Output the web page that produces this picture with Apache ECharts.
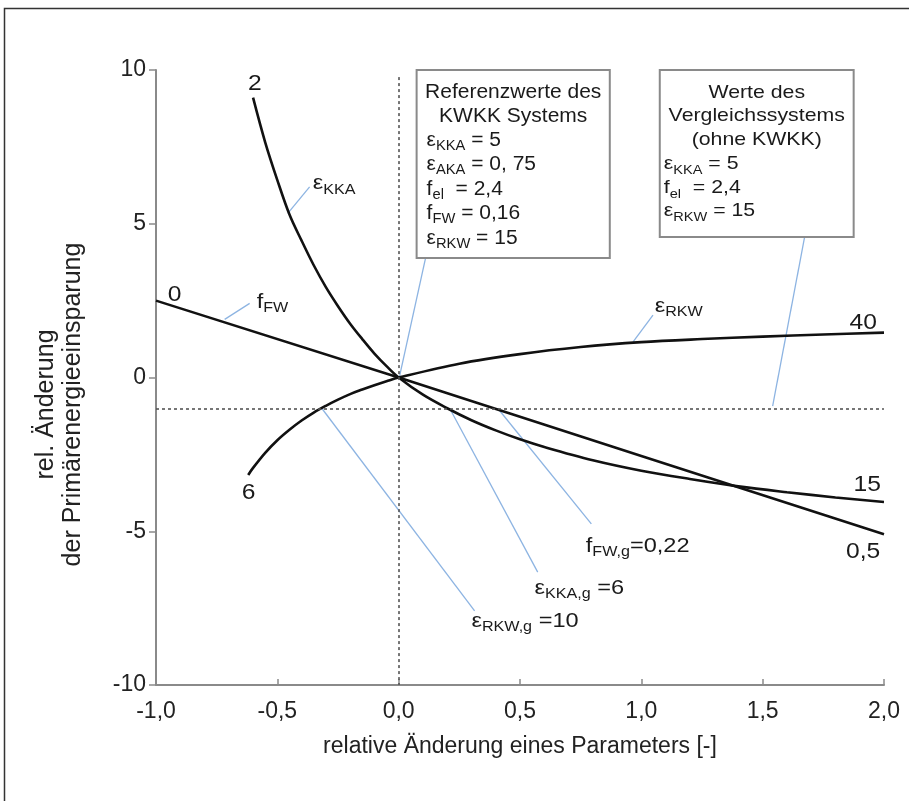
<!DOCTYPE html>
<html><head><meta charset="utf-8">
<script src="https://cdn.jsdelivr.net/npm/echarts@6/dist/echarts.min.js"></script>
<style>html,body{margin:0;padding:0;background:#fff}#c{width:909px;height:801px}</style>
</head><body><div id="c"></div>
<script>
// ---------- data ----------
const kkaX = [-0.6, -0.55, -0.5, -0.45, -0.4, -0.35, -0.3, -0.25, -0.2, -0.15, -0.1, -0.05, 0, 0.1, 0.2, 0.3, 0.4, 0.5, 0.6, 0.8, 1.0, 1.2, 1.4, 1.6, 1.8, 2.0];
const kkaY = [9.1, 7.65, 6.42, 5.3, 4.45, 3.65, 2.94, 2.32, 1.75, 1.25, 0.78, 0.37, 0, -0.56, -1.0, -1.39, -1.72, -2.01, -2.26, -2.69, -3.03, -3.3, -3.54, -3.73, -3.9, -4.05];
const rkwX = [-0.62, -0.6, -0.55, -0.5, -0.45, -0.4, -0.35, -0.3, -0.25, -0.2, -0.15, -0.1, -0.05, 0, 0.25, 0.5, 0.75, 1.0, 1.25, 1.5, 1.75, 2.0];
const rkwY = [-3.17, -2.94, -2.45, -2.04, -1.7, -1.4, -1.14, -0.92, -0.72, -0.54, -0.39, -0.25, -0.12, 0, 0.45, 0.76, 0.99, 1.15, 1.25, 1.33, 1.4, 1.46];
const fwX = [-1.0, 0, 1.0, 2.0];
const fwY = [2.5, 0, -2.55, -5.1];
const refX = 0;          // vertical dotted reference
const refY = -1;         // horizontal dotted reference
const xMin = -1, xMax = 2, xStep = 0.5;
const yMin = -10, yMax = 10, yStep = 5;
const xTitle = 'relative Änderung eines Parameters [-]';
const yTitle = 'rel. Änderung\nder Primärenergieeinsparung';

// curve end labels: [text, x, y]
const endLabels = [['2', -0.593, 9.54], ['0', -0.923, 2.67], ['6', -0.618, -3.74], ['40', 1.914, 1.76], ['15', 1.931, -3.51], ['0,5', 1.914, -5.66]];
// curve name labels: [segments, x, y]  (segment: [text, style])
const nameLabels = [
  [[['ε','b'],['KKA','s']], -0.354, 6.3],
  [[['f','b'],['FW','s']], -0.585, 2.46],
  [[['ε','b'],['RKW','s']], 1.055, 2.33],
  [[['f','b'],['FW,g','s'],['=0,22','b']], 0.771, -5.48],
  [[['ε','b'],['KKA,g','s'],[' =6','b']], 0.56, -6.85],
  [[['ε','b'],['RKW,g','s'],[' =10','b']], 0.30, -7.92]
];
// leader lines: [x0, y0, x1, y1]
const leaders = [
  [-0.457, 5.34, -0.367, 6.20],
  [-0.717, 1.89, -0.614, 2.41],
  [0.966, 1.16, 1.048, 2.03],
  [0.004, 0.05, 0.111, 3.89],
  [1.541, -0.93, 1.673, 4.57],
  [0.408, -1.0, 0.794, -4.76],
  [0.21, -1.0, 0.573, -6.33],
  [-0.317, -1.0, 0.313, -7.59]
];
// boxes
const box1Corners = [[0.074, 10], [0.87, 3.89]];
const box1Header = ['Referenzwerte des', 'KWKK Systems'];
const box1Body = [
  [['ε','b'],['KKA','s'],[' = 5','b']],
  [['ε','b'],['AKA','s'],[' = 0, 75','b']],
  [['f','b'],['el','s'],['  = 2,4','b']],
  [['f','b'],['FW','s'],[' = 0,16','b']],
  [['ε','b'],['RKW','s'],[' = 15','b']]
];
const box2Corners = [[1.076, 10], [1.875, 4.57]];
const box2Header = ['Werte des', 'Vergleichssystems', '(ohne KWKK)'];
const box2Body = [
  [['ε','b'],['KKA','s'],[' = 5','b']],
  [['f','b'],['el','s'],['  = 2,4','b']],
  [['ε','b'],['RKW','s'],[' = 15','b']]
];

// ---------- chart ----------
const FONT = 'Liberation Sans, Arial, Helvetica, sans-serif';
const zip = (a, b) => a.map((v, i) => [v, b[i]]);
const dom = document.getElementById('c');
const chart = echarts.init(dom, null, {renderer: 'canvas'});
const curveStyle = {color: '#111', width: 2.6};
const series = [
  {type: 'line', name: 'ref', data: [], silent: true, z: 1,
   markLine: {silent: true, symbol: 'none', label: {show: false},
     lineStyle: {type: [3, 3], color: '#555', width: 1.6},
     data: [
       [{coord: [refX, 9.77]}, {coord: [refX, yMin]}],
       [{coord: [xMin, refY]}, {coord: [xMax, refY]}]
     ]}}
];
leaders.forEach((l, i) => series.push({
  type: 'line', name: 'leader' + i, data: [[l[0], l[1]], [l[2], l[3]]], silent: true,
  showSymbol: false, symbol: 'none', lineStyle: {color: '#8db4e2', width: 1.3}, z: 2, animation: false
}));
series.push(
  {type: 'line', name: 'kka', data: zip(kkaX, kkaY), smooth: 0.35, showSymbol: false, symbol: 'none', lineStyle: curveStyle, z: 3},
  {type: 'line', name: 'rkw', data: zip(rkwX, rkwY), smooth: 0.35, showSymbol: false, symbol: 'none', lineStyle: curveStyle, z: 3},
  {type: 'line', name: 'fw', data: zip(fwX, fwY), showSymbol: false, symbol: 'none', lineStyle: curveStyle, z: 3}
);

chart.setOption({
  animation: false,
  backgroundColor: '#fff',
  grid: {left: 156, right: 25, top: 70, bottom: 116, containLabel: false},
  xAxis: {
    type: 'value', min: xMin, max: xMax, interval: xStep,
    name: xTitle, nameLocation: 'middle', nameGap: 50,
    nameTextStyle: {fontFamily: FONT, fontSize: 23, color: '#222'},
    axisLine: {onZero: false, lineStyle: {color: '#8a8a8a', width: 2}},
    axisTick: {inside: true, length: 6, lineStyle: {color: '#8a8a8a', width: 1.5}},
    axisLabel: {fontFamily: FONT, fontSize: 23, color: '#222', margin: 15,
      formatter: v => v.toFixed(1).replace('.', ',')},
    splitLine: {show: false}
  },
  yAxis: {
    type: 'value', min: yMin, max: yMax, interval: yStep,
    name: yTitle, nameLocation: 'middle', nameGap: 69, nameRotate: 90,
    nameTextStyle: {fontFamily: FONT, fontSize: 25, lineHeight: 27, color: '#222', align: 'center', padding: [0, 54, 0, 0]},
    axisLine: {onZero: false, lineStyle: {color: '#8a8a8a', width: 2}},
    axisTick: {inside: false, length: 7, lineStyle: {color: '#8a8a8a', width: 1.5}},
    axisLabel: {fontFamily: FONT, fontSize: 23, color: '#222', margin: 10},
    splitLine: {show: false}
  },
  series: series
});

// ---------- annotations ----------
const P = (x, y) => chart.convertToPixel({gridIndex: 0}, [x, y]);
function richText(segs) { return segs.map(s => '{' + s[1] + '|' + s[0] + '}').join(''); }
function richStyles(fs) {
  return {
    b: {fontSize: fs, fontFamily: FONT, fill: '#1a1a1a', lineHeight: 26},
    s: {fontSize: Math.round(fs * 0.68), fontFamily: FONT, fill: '#1a1a1a', lineHeight: 10, verticalAlign: 'bottom'}
  };
}
const g = [];
// frame
g.push({type: 'rect', shape: {x: 4.5, y: 8.5, width: 1200, height: 1200}, style: {fill: null, stroke: '#333', lineWidth: 1.5}, z: 0, silent: true});

endLabels.forEach(e => {
  const p = P(e[1], e[2]);
  g.push({type: 'text', x: p[0], y: p[1], scaleX: 1.12, z: 10, style: {text: e[0], fontFamily: FONT, fontSize: 22, fill: '#1a1a1a', align: 'center', verticalAlign: 'middle'}});
});
nameLabels.forEach(e => {
  const p = P(e[1], e[2]);
  g.push({type: 'text', x: p[0], y: p[1], scaleX: 1.15, z: 10, style: {text: richText(e[0]), rich: richStyles(20.5), align: 'left', verticalAlign: 'middle'}});
});
function drawBox(corners, header, body, opt) {
  const a = P(corners[0][0], corners[0][1]), b = P(corners[1][0], corners[1][1]);
  g.push({type: 'rect', shape: {x: a[0], y: a[1], width: b[0] - a[0], height: b[1] - a[1]},
    style: {fill: '#fff', stroke: '#8a8a8a', lineWidth: 2}, z: 8, silent: true});
  const cx = (a[0] + b[0]) / 2;
  header.forEach((t, i) => g.push({type: 'text', x: cx, y: a[1] + opt.headTop + i * opt.step, scaleX: opt.scale, z: 10,
    style: {text: t, fontFamily: FONT, fontSize: opt.fs, fill: '#1a1a1a', align: 'center', verticalAlign: 'middle'}}));
  body.forEach((segs, i) => g.push({type: 'text', x: a[0] + opt.bodyLeft, y: a[1] + opt.bodyTop + i * opt.step, scaleX: opt.scale, z: 10,
    style: {text: richText(segs), rich: richStyles(opt.fs), align: 'left', verticalAlign: 'middle'}}));
}
drawBox(box1Corners, box1Header, box1Body, {fs: 20, scale: 1.05, headTop: 22, bodyTop: 70, step: 24.5, bodyLeft: 10});
drawBox(box2Corners, box2Header, box2Body, {fs: 19, scale: 1.12, headTop: 22.5, bodyTop: 94, step: 23.5, bodyLeft: 4});

chart.setOption({graphic: {elements: g}});
</script>
</body></html>
